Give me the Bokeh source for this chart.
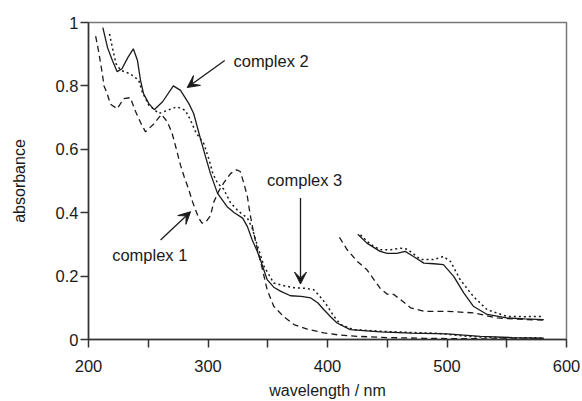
from bokeh.plotting import figure
from bokeh.models import FixedTicker, NumeralTickFormatter, Label, Arrow, VeeHead, Range1d
from bokeh.embed import file_html
from bokeh.resources import INLINE

# complex 1 (dashed)
wl1 = [206, 208.6, 211.5, 213, 215.6, 218.4, 224, 229.5, 235, 239.3, 243.5, 247.7, 254.6, 261, 266, 270,
       273, 277, 280, 284, 287, 289.5, 292, 295, 298, 302, 305, 309, 313, 319, 324, 327, 330, 333, 335,
       338, 341, 345, 349.5, 355, 363, 372, 383, 397, 410, 425, 450, 480, 500, 540, 580]
a1 = [0.957, 0.906, 0.84, 0.80, 0.776, 0.742, 0.728, 0.76, 0.763, 0.72, 0.685, 0.655, 0.68, 0.71, 0.687, 0.65,
      0.608, 0.55, 0.514, 0.472, 0.435, 0.41, 0.385, 0.367, 0.37, 0.39, 0.435, 0.468, 0.493, 0.524, 0.535,
      0.53, 0.493, 0.45, 0.40, 0.34, 0.29, 0.23, 0.157, 0.105, 0.073, 0.047, 0.033, 0.021, 0.014, 0.01,
      0.006, 0.004, 0.003, 0.002, 0.002]
# complex 2 (solid)
wl2 = [212, 216, 220, 224, 228, 233, 237.5, 241, 243.5, 246, 250.5, 255, 262, 271, 277, 284, 288, 294, 298,
       302, 308, 316, 322, 329, 333, 337, 341, 344, 349.5, 355, 361, 369, 378, 386, 392, 397, 403, 408, 419,
       444, 470, 500, 528, 555, 581]
a2 = [0.984, 0.92, 0.88, 0.845, 0.854, 0.89, 0.917, 0.88, 0.818, 0.776, 0.744, 0.725, 0.75, 0.80, 0.786,
      0.744, 0.713, 0.629, 0.576, 0.524, 0.461, 0.419, 0.40, 0.383, 0.356, 0.314, 0.28, 0.25, 0.189, 0.165,
      0.152, 0.138, 0.136, 0.131, 0.115, 0.094, 0.07, 0.052, 0.031, 0.024, 0.02, 0.018, 0.01, 0.006, 0.004]
# complex 3 (dotted)
wl3 = [217.6, 220, 223, 227, 235, 242, 245, 250.5, 259, 266, 274, 281, 285, 290, 296.5, 301, 304, 308, 313,
       319, 326, 333, 337, 341, 347, 355, 361, 372, 380, 388.5, 395, 400, 405, 411, 422, 450, 478, 490, 517,
       540, 581]
a3 = [0.964, 0.92, 0.87, 0.849, 0.838, 0.818, 0.781, 0.739, 0.713, 0.723, 0.734, 0.723, 0.695, 0.652, 0.618,
      0.566, 0.524, 0.493, 0.475, 0.43, 0.403, 0.383, 0.351, 0.30, 0.23, 0.178, 0.172, 0.163, 0.162, 0.157,
      0.13, 0.105, 0.075, 0.047, 0.031, 0.025, 0.021, 0.02, 0.01, 0.006, 0.005]

# magnified visible region
wl1v = [410, 416.5, 425, 433, 444, 450, 455.5, 461, 469.5, 480.6, 500, 522, 542, 560, 581]
a1v = [0.322, 0.283, 0.246, 0.22, 0.162, 0.143, 0.142, 0.126, 0.10, 0.089, 0.089, 0.084, 0.068, 0.064, 0.061]
wl2v = [425.4, 433, 444, 450, 458, 465, 472, 480.6, 489, 497, 505.6, 514, 522, 533.6, 550, 565, 581]
a2v = [0.332, 0.304, 0.278, 0.272, 0.272, 0.278, 0.262, 0.241, 0.239, 0.236, 0.199, 0.147, 0.105, 0.079,
       0.068, 0.065, 0.063]
wl3v = [427.6, 436, 444, 452.7, 461, 466.7, 472, 478, 489, 497, 503, 511, 522, 533.6, 550, 565, 581]
a3v = [0.33, 0.30, 0.283, 0.283, 0.288, 0.285, 0.27, 0.252, 0.252, 0.262, 0.246, 0.189, 0.136, 0.094,
       0.073, 0.072, 0.073]

x_major = [200, 300, 400, 500, 600]
x_minor = [250, 350, 450, 550]
y_major = [0, 0.2, 0.4, 0.6, 0.8, 1]

FONT = "Liberation Sans"
INK = "#1a1a1a"

p = figure(width=582, height=401, output_backend="svg", toolbar_location=None,
           x_range=Range1d(200, 600), y_range=Range1d(0, 1),
           min_border_left=88, min_border_right=16, min_border_top=22, min_border_bottom=61)
p.grid.visible = False
p.outline_line_color = "#777777"
p.outline_line_width = 1.5
p.background_fill_color = "white"
p.border_fill_color = "white"

for ax in (p.xaxis[0], p.yaxis[0]):
    ax.axis_line_color = "#333333"
    ax.axis_line_width = 1.5
    ax.major_tick_line_color = "#333333"
    ax.major_tick_line_width = 1.5
    ax.minor_tick_line_color = "#333333"
    ax.minor_tick_line_width = 1.5
    ax.major_tick_in = 0
    ax.major_tick_out = 8
    ax.minor_tick_in = 0
    ax.minor_tick_out = 8
    ax.major_label_text_font = FONT
    ax.major_label_text_font_size = "16.5px"
    ax.major_label_text_color = INK
    ax.axis_label_text_font = FONT
    ax.axis_label_text_font_size = "16px"
    ax.axis_label_text_font_style = "normal"
    ax.axis_label_text_color = INK

p.xaxis.ticker = FixedTicker(ticks=x_major, minor_ticks=x_minor)
p.yaxis.ticker = FixedTicker(ticks=y_major, minor_ticks=[])
p.yaxis.formatter = NumeralTickFormatter(format="0.[0]")
p.xaxis.axis_label = "wavelength / nm"
p.yaxis.axis_label = "absorbance"
p.xaxis.major_label_standoff = 12
p.xaxis.axis_label_standoff = 7
p.yaxis.major_label_standoff = 2
p.yaxis.axis_label_standoff = 25

p.line(wl1, a1, line_color=INK, line_width=1.3, line_dash="6 4")
p.line(wl2, a2, line_color=INK, line_width=1.3)
p.line(wl3, a3, line_color=INK, line_width=1.5, line_dash="2 3")
p.line(wl1v, a1v, line_color=INK, line_width=1.3, line_dash="6 4")
p.line(wl2v, a2v, line_color=INK, line_width=1.3)
p.line(wl3v, a3v, line_color=INK, line_width=1.5, line_dash="2 3")

labels = [("complex 2", 321.3, 0.88), ("complex 3", 349.4, 0.503), ("complex 1", 219.8, 0.267)]
for t, x, y in labels:
    p.add_layout(Label(x=x, y=y, text=t, text_font=FONT, text_font_size="16.5px",
                       text_color=INK, text_baseline="middle", text_align="left"))

arrows = [(314.0, 0.88, 282.6, 0.795), (377.4, 0.446, 377.4, 0.175), (260.3, 0.314, 285.4, 0.403)]
for x0, y0, x1, y1 in arrows:
    p.add_layout(Arrow(x_start=x0, y_start=y0, x_end=x1, y_end=y1, line_color=INK, line_width=1.3,
                       end=VeeHead(size=12, fill_color=INK, line_color=INK, line_width=1)))

open("out.html", "w").write(file_html(p, INLINE))
